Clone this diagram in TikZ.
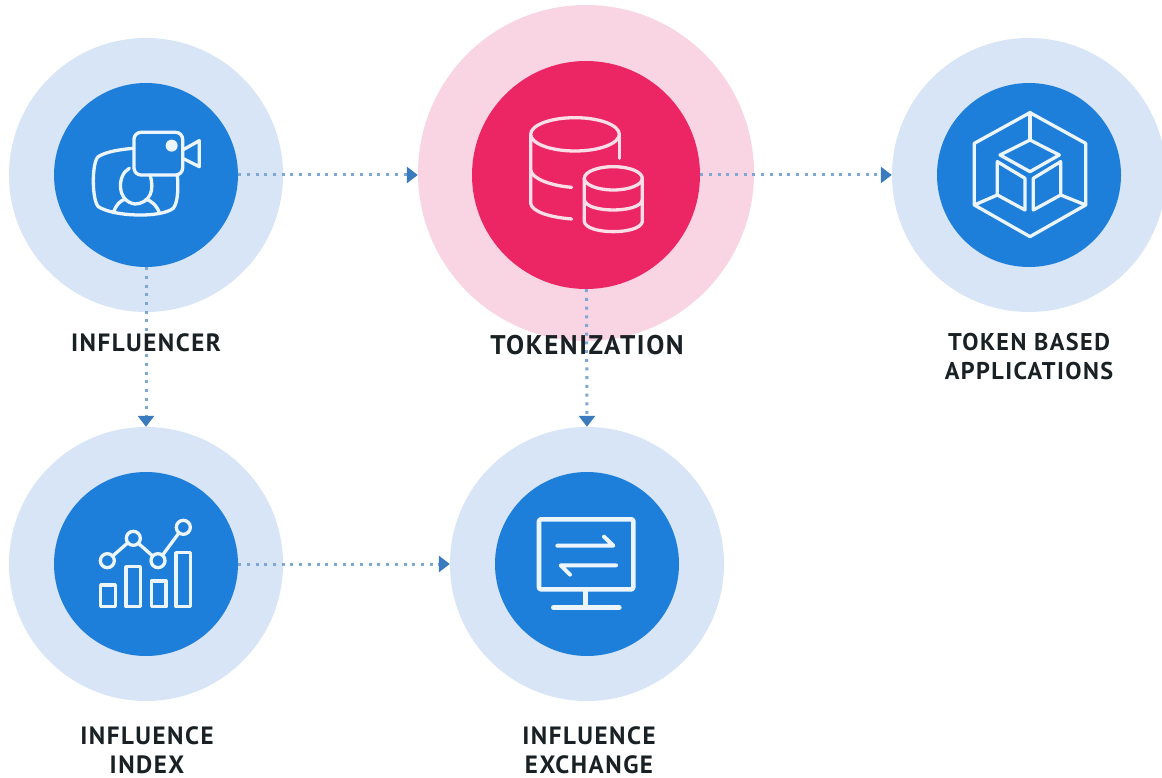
\documentclass[tikz,border=0pt]{standalone}
\usepackage{fontspec}
\setmainfont{PT Sans}[LetterSpace=6]
\usetikzlibrary{arrows.meta}
\definecolor{halo}{HTML}{D7E5F6}
\definecolor{core}{HTML}{1E7FDB}
\definecolor{pinkhalo}{HTML}{F9D5E3}
\definecolor{pinkcore}{HTML}{EC2565}
\definecolor{dots}{HTML}{7DA8D6}
\definecolor{tip}{HTML}{3A7ABE}
\definecolor{ink}{HTML}{1A2125}
\tikzset{
  outerdisc/.style={circle,fill=halo,minimum size=274pt,inner sep=0pt},
  innerdisc/.style={circle,fill=core,minimum size=184pt,inner sep=0pt},
  link/.style={dots,line width=3pt,dash pattern=on 3pt off 5.7pt,-{Triangle[length=11pt,width=16pt,sep=0pt,color=tip]}},
  lbl/.style={font=\bfseries\fontsize{25}{29}\selectfont,text=ink,align=center,inner sep=0pt},
  ico/.style={white!92!core,line width=3.3pt,line join=round,line cap=round}
}
\begin{document}
\begin{tikzpicture}[x=1pt,y=-1pt]
\useasboundingbox[fill=white] (0,0) rectangle (1162,778);
\node[outerdisc] (infO) at (146,175) {};
\node[outerdisc] (tokO2) at (1029,175) {};
\node[outerdisc] (idxO) at (146,564) {};
\node[outerdisc] (excO) at (587,564) {};
\node[outerdisc,fill=pinkhalo,minimum size=336pt] (tokO) at (586,173) {};
\node[innerdisc] (inf) at (146,175) {};
\node[innerdisc] (app) at (1029,175) {};
\node[innerdisc] (idx) at (146,564) {};
\node[innerdisc] (exc) at (587,564) {};
\node[innerdisc,fill=pinkcore,minimum size=228pt] (tok) at (586,175) {};
\draw[link] (inf) -- (tok.west -| tokO.west);
\draw[link] (tok.east) -- (app.center -| tokO2.west);
\draw[link] (inf) -- (idxO);
\draw[link] (tok) -- (excO.north);
\draw[link] (idx) -- (excO);
\node[lbl] (l1) at (146,343) {INFLUENCER};
\node[lbl,font=\bfseries\fontsize{27}{29}\selectfont] (l2) at (587,345) {TOKENIZATION};
\node[lbl,font=\bfseries\fontsize{24.2}{29}\selectfont] (l3) at (1029,357) {TOKEN BASED\\APPLICATIONS};
\node[lbl] (l4) at (147,750) {INFLUENCE\\INDEX};
\node[lbl] (l5) at (589,750) {INFLUENCE\\EXCHANGE};
% camera icon
\begin{scope}[shift={(70,100)},x=.3333pt,y=-.3333pt,ico]
\draw (190,145) .. controls (130,150) and (100,160) .. (85,170) .. controls (65,185) and (65,300) .. (85,320) .. controls (130,350) and (270,355) .. (310,325) .. controls (325,305) and (325,260) .. (322,225);
\draw (178,205) .. controls (140,225) and (140,305) .. (195,312) .. controls (240,310) and (255,270) .. (240,225);
\draw (130,338) .. controls (140,310) and (155,300) .. (165,298);
\draw (268,338) .. controls (260,315) and (240,300) .. (228,298);
\draw[rounded corners=7pt] (192,97) rectangle (338,225);
\draw (338,150) -- (388,122) -- (388,200) -- (338,175);
\fill[white!92!core] (305,137) circle[radius=18];
\end{scope}
% database icon
\begin{scope}[shift={(500,100)},x=.3333pt,y=-.3333pt,ico,white!85!pinkcore]
\draw (225,103) ellipse[x radius=133,y radius=50];
\draw (92,105) -- (92,310) .. controls (95,335) and (150,352) .. (215,357);
\draw (358,105) -- (358,175);
\draw (92,210) .. controls (95,235) and (150,257) .. (215,262);
\draw (340,235) ellipse[x radius=87,y radius=35];
\draw (253,235) -- (253,365) .. controls (260,405) and (420,405) .. (427,365) -- (427,235);
\draw (253,300) .. controls (260,340) and (420,340) .. (427,300);
\end{scope}
% cube icon
\begin{scope}[shift={(950,110)},x=.3333pt,y=-.3333pt,ico]
\draw (240,8) -- (407,100) -- (407,285) -- (240,380) -- (73,285) -- (73,100) -- cycle;
\draw (240,8) -- (240,90);
\draw (240,90) -- (328,135) -- (240,185) -- (150,135) -- cycle;
\draw (142,155) -- (225,205) -- (225,300) -- (142,255) -- cycle;
\draw (332,155) -- (250,205) -- (250,300) -- (332,255) -- cycle;
\draw (73,285) -- (142,255);
\draw (407,285) -- (332,255);
\end{scope}
% chart icon
\begin{scope}[shift={(80,500)},x=.3333pt,y=-.3333pt,ico]
\draw (82,182) circle[radius=21];
\draw (160,115) circle[radius=21];
\draw (234,182) circle[radius=21];
\draw (310,82) circle[radius=21];
\draw (98,168) -- (144,128);
\draw (175,130) -- (218,168);
\draw (248,165) -- (296,100);
\draw (62,255) rectangle (106,320);
\draw (138,200) rectangle (182,320);
\draw (214,243) rectangle (258,320);
\draw (288,158) rectangle (332,320);
\end{scope}
% monitor icon
\begin{scope}[shift={(520,500)},x=.3333pt,y=-.3333pt,ico]
\draw[line width=4.6pt,rounded corners=2pt] (57,58) rectangle (340,268);
\draw[line width=4.6pt] (197,268) -- (197,322);
\draw[line width=4.6pt] (100,323) -- (298,323);
\draw[line width=4pt] (112,137) -- (280,137) -- (252,110);
\draw[line width=4pt] (288,196) -- (122,196) -- (150,224);
\end{scope}
\end{tikzpicture}
\end{document}
